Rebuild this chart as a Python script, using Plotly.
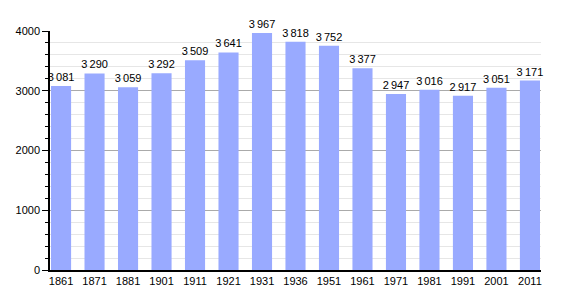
import plotly.graph_objects as go

years = ["1861", "1871", "1881", "1901", "1911", "1921", "1931", "1936", "1951",
         "1961", "1971", "1981", "1991", "2001", "2011"]
population = [3081, 3290, 3059, 3292, 3509, 3641, 3967, 3818, 3752,
              3377, 2947, 3016, 2917, 3051, 3171]
y_ticks = [0, 1000, 2000, 3000, 4000]

labels = [f"{v:,}".replace(",", "\u2009") for v in population]

fig = go.Figure(go.Bar(
    x=list(range(len(years))),
    y=population,
    text=labels,
    textposition="outside",
    constraintext="none",
    textfont=dict(family="Liberation Sans, Arial, sans-serif", size=11, color="#000000"),
    cliponaxis=False,
    marker=dict(color="#99aaff", line=dict(width=0)),
    width=0.6,
))

fig.update_layout(
    width=570, height=300,
    margin=dict(l=50, r=29, t=31, b=30),
    paper_bgcolor="white", plot_bgcolor="white",
    showlegend=False,
    font=dict(family="Liberation Sans, Arial, sans-serif", size=11, color="#000000"),
)
fig.update_xaxes(
    range=[-0.33, len(years) - 1 + 0.33],
    tickmode="array", tickvals=list(range(len(years))), ticktext=years,
    showgrid=False, zeroline=False,
    showline=True, linecolor="#000000", linewidth=1.5,
    ticks="", tickfont=dict(size=11),
)
fig.update_yaxes(
    range=[0, 4000],
    tickmode="array", tickvals=y_ticks, ticktext=[str(t) for t in y_ticks],
    showgrid=True, gridcolor="#aaaaaa", gridwidth=1,
    zeroline=False,
    showline=True, linecolor="#000000", linewidth=1.5,
    ticks="outside", ticklen=6, tickcolor="#000000", tickwidth=1,
    minor=dict(dtick=200, tick0=0, ticks="outside", ticklen=3, tickcolor="#000000",
               showgrid=True, gridcolor="#e6e6e6", gridwidth=1),
    tickfont=dict(size=11),
)

fig.write_html("out.html")
